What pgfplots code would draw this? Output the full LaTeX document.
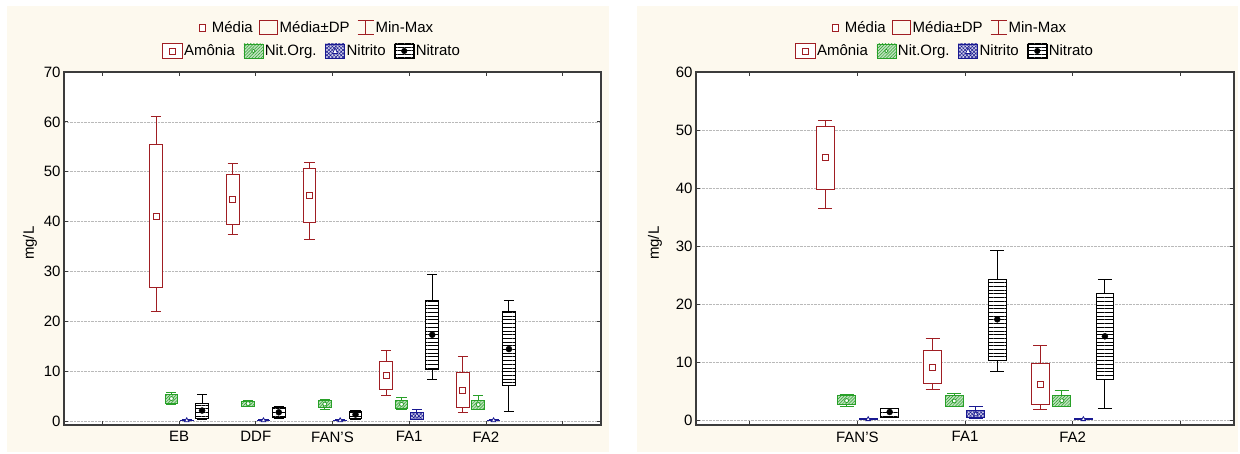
\documentclass[border=0pt]{standalone}
\usepackage{fontspec}
\setmainfont{Liberation Sans}
\usepackage{pgfplots}
\pgfplotsset{compat=1.18}
\usepgfplotslibrary{statistics}
\usetikzlibrary{patterns.meta}
\definecolor{cream}{RGB}{253,249,238}
\definecolor{amred}{RGB}{160,30,35}
\definecolor{grn}{RGB}{40,160,40}
\definecolor{nvy}{RGB}{25,25,145}
\definecolor{frm}{RGB}{60,60,60}
\newcommand\ff{\fontsize{15}{18}\selectfont}
\pgfplotsset{
 bxcommon/.style={line width=1pt, boxplot/draw direction=y, boxplot/every median/.style={draw=none}, boxplot/box extend=0.165},
 am box/.style={bxcommon, amred, boxplot/every box/.style={fill=white}},
 am mean/.style={amred, only marks, mark=square*, mark size=3pt, mark options={draw=amred, fill=white, line width=1pt}},
 ng box/.style={bxcommon, grn, boxplot/every box/.style={preaction={fill=grn!30}, pattern={Lines[angle=45,distance=2.2pt,line width=0.5pt]}, pattern color=grn}},
 ng mean/.style={grn, only marks, mark=*, mark size=2pt, mark options={draw=grn, fill=white, line width=0.8pt}},
 ni box/.style={bxcommon, nvy, boxplot/every box/.style={preaction={fill=nvy!20}, pattern={Hatch[angle=45,distance=2.5pt,line width=0.5pt]}, pattern color=nvy}},
 ni mean/.style={nvy, only marks, mark=triangle*, mark size=2.6pt, mark options={draw=nvy, fill=white, line width=0.8pt}},
 na box/.style={bxcommon, black, boxplot/every box/.style={preaction={fill=white}, pattern={Lines[angle=0,distance=3.7pt,line width=0.8pt]}, pattern color=black}},
 na mean/.style={black, only marks, mark=*, mark size=3pt, mark options={black}},
 panel/.style={scale only axis, anchor=south west, axis background/.style={fill=white},
   axis line style={frm, line width=1.2pt}, tick style={frm, line width=0.8pt},
   major tick length=4pt, tick align=inside, xtick pos=both, ytick pos=both,
   xticklabel pos=lower, yticklabel pos=left, ymajorgrids,
   major grid style={gray!55, densely dotted, line width=0.6pt},
   tick label style={font=\ff}, /pgf/number format/assume math mode=true,
   xticklabel style={yshift=-3pt},
   label style={font=\ff}, ylabel={mg/L}, minor tick num=0},
 legax/.style={hide axis, scale only axis, width=1pt, height=1pt, anchor=center,
   xmin=0, xmax=1, ymin=0, ymax=1, legend columns=-1,
   legend style={at={(0.5,0.5)}, anchor=center, draw=none, fill=none, font=\ff, inner sep=0pt, nodes={inner sep=1pt}}},
 leg media/.style={legend image code/.code={\path[draw=none] (-3pt,0pt) -- (14pt,0pt); \draw[amred,line width=1pt,fill=white] (2.5pt,-3.2pt) rectangle (8.9pt,3.2pt);}},
 leg dp/.style={legend image code/.code={\path[draw=none] (0pt,0pt) -- (25pt,0pt); \draw[amred,line width=1pt] (6pt,-7pt) rectangle (24pt,7pt);}},
 leg mm/.style={legend image code/.code={\path[draw=none] (0pt,0pt) -- (24pt,0pt); \draw[amred,line width=1pt] (7pt,7pt)--(23pt,7pt) (15pt,7pt)--(15pt,-7pt) (7pt,-7pt)--(23pt,-7pt);}},
 leg am/.style={legend image code/.code={\path[draw=none] (0pt,0pt) -- (22pt,0pt); \draw[amred,line width=1pt,fill=white] (1pt,-7.5pt) rectangle (21pt,7.5pt); \draw[amred,line width=0.9pt] (8pt,-3pt) rectangle (14pt,3pt);}},
 leg ng/.style={legend image code/.code={\path[draw=none] (0pt,0pt) -- (28pt,0pt); \draw[grn,line width=0.8pt,preaction={fill=grn!30},pattern={Lines[angle=45,distance=2.2pt,line width=0.5pt]},pattern color=grn] (8pt,-7pt) rectangle (27pt,7pt); \draw[grn,fill=white,line width=0.7pt] (17.5pt,0pt) circle (1.8pt);}},
 leg ni/.style={legend image code/.code={\path[draw=none] (0pt,0pt) -- (28pt,0pt); \draw[nvy,line width=0.8pt,preaction={fill=nvy!20},pattern={Hatch[angle=45,distance=2.5pt,line width=0.5pt]},pattern color=nvy] (8pt,-7pt) rectangle (27pt,7pt); \draw[nvy,fill=white,line width=0.7pt] (15pt,-2.5pt) -- (20pt,-2.5pt) -- (17.5pt,3pt) -- cycle;}},
 leg na/.style={legend image code/.code={\path[draw=none] (0pt,0pt) -- (28pt,0pt); \draw[black,line width=0.8pt,preaction={fill=white},pattern={Lines[angle=0,distance=3.5pt,line width=0.8pt]},pattern color=black] (8pt,-7pt) rectangle (27pt,7pt); \fill[black] (17.5pt,0pt) circle (2.8pt);}},
}
% #1 series, #2 position, #3 min, #4 mean-SD, #5 mean, #6 mean+SD, #7 max
\newcommand\bx[7]{%
 \addplot[#1 box, boxplot prepared={draw position=#2, lower whisker=#3, lower quartile=#4, median=#4, upper quartile=#6, upper whisker=#7}] coordinates {};
 \addplot[#1 mean] coordinates {(#2,#5)};
}
\begin{document}
\begin{tikzpicture}[x=1pt,y=1pt]
\useasboundingbox (0,0) rectangle (1240,453);
\fill[cream] (7,1) rectangle (609,447);
\fill[cream] (637,1) rectangle (1238,447);
% ---------------- left panel
\begin{axis}[panel, at={(64pt,28pt)}, width=537pt, height=353pt,
  xmin=-0.5, xmax=6.5, ymin=-0.8, ymax=70,
  xtick={0,...,6}, xticklabels={{},EB,DDF,FAN'S,FA1,FA2,{}},
  ytick={0,10,...,70},
  ylabel style={at={(axis description cs:-0.0633,0.515)}, anchor=center}]
\bx{am}{0.7}{21.9}{26.85}{41.1}{55.45}{61.05}
\bx{ng}{0.9}{3.4}{3.55}{4.5}{5.4}{5.75}
\bx{ni}{1.1}{0.02}{0.05}{0.12}{0.2}{0.25}
\bx{na}{1.3}{0.3}{0.55}{2.1}{3.5}{5.4}
\bx{am}{1.7}{37.5}{39.4}{44.35}{49.4}{51.6}
\bx{ng}{1.9}{2.9}{3.0}{3.5}{4.0}{4.1}
\bx{ni}{2.1}{0.02}{0.05}{0.12}{0.2}{0.25}
\bx{na}{2.3}{0.5}{0.67}{1.75}{2.67}{2.85}
\bx{am}{2.7}{36.5}{39.8}{45.2}{50.7}{51.8}
\bx{ng}{2.9}{2.4}{2.75}{3.4}{4.15}{4.4}
\bx{ni}{3.1}{0.02}{0.05}{0.12}{0.2}{0.25}
\bx{na}{3.3}{0.4}{0.45}{1.3}{2.0}{2.1}
\bx{am}{3.7}{5.2}{6.35}{9.15}{12.0}{14.15}
\bx{ng}{3.9}{2.3}{2.45}{3.35}{4.2}{4.7}
\bx{ni}{4.1}{0.3}{0.4}{1.05}{1.72}{2.4}
\bx{na}{4.3}{8.4}{10.35}{17.3}{24.2}{29.3}
\bx{am}{4.7}{1.8}{2.65}{6.2}{9.8}{12.95}
\bx{ng}{4.9}{2.3}{2.4}{3.3}{4.1}{5.2}
\bx{ni}{5.1}{0.02}{0.05}{0.12}{0.2}{0.3}
\bx{na}{5.3}{2.0}{7.1}{14.43}{21.87}{24.22}
\end{axis}
% ---------------- right panel
\begin{axis}[panel, at={(696pt,28pt)}, width=538pt, height=353pt,
  xmin=-0.5, xmax=4.5, ymin=-0.86, ymax=60,
  xtick={0,...,4}, xticklabels={{},FAN'S,FA1,FA2,{}},
  ytick={0,10,...,60},
  ylabel style={at={(axis description cs:-0.0762,0.515)}, anchor=center}]
\bx{am}{0.7}{36.4}{39.8}{45.3}{50.6}{51.7}
\bx{ng}{0.9}{2.4}{2.75}{3.35}{4.15}{4.4}
\bx{ni}{1.1}{0.02}{0.05}{0.12}{0.2}{0.25}
\bx{na}{1.3}{0.45}{0.47}{1.38}{1.95}{2.05}
\bx{am}{1.7}{5.2}{6.3}{9.1}{12.0}{14.1}
\bx{ng}{1.9}{2.3}{2.41}{3.28}{4.14}{4.6}
\bx{ni}{2.1}{0.3}{0.47}{1.03}{1.72}{2.36}
\bx{na}{2.3}{8.45}{10.29}{17.36}{24.2}{29.26}
\bx{am}{2.7}{1.78}{2.59}{6.2}{9.77}{12.93}
\bx{ng}{2.9}{2.3}{2.41}{3.33}{4.14}{5.17}
\bx{ni}{3.1}{0.02}{0.05}{0.12}{0.2}{0.3}
\bx{na}{3.3}{2.0}{7.07}{14.43}{21.84}{24.19}
\end{axis}
% ---------------- legends
\begin{axis}[legax, at={(314pt,425pt)}]
\addlegendimage{leg media}\addlegendentry{Média}
\addlegendimage{leg dp}\addlegendentry{Média±DP}
\addlegendimage{leg mm}\addlegendentry{Min-Max}
\end{axis}
\begin{axis}[legax, at={(311pt,402pt)}]
\addlegendimage{leg am}\addlegendentry{Amônia}
\addlegendimage{leg ng}\addlegendentry{Nit.Org.}
\addlegendimage{leg ni}\addlegendentry{Nitrito}
\addlegendimage{leg na}\addlegendentry{Nitrato}
\end{axis}
\begin{axis}[legax, at={(947pt,425pt)}]
\addlegendimage{leg media}\addlegendentry{Média}
\addlegendimage{leg dp}\addlegendentry{Média±DP}
\addlegendimage{leg mm}\addlegendentry{Min-Max}
\end{axis}
\begin{axis}[legax, at={(944pt,402pt)}]
\addlegendimage{leg am}\addlegendentry{Amônia}
\addlegendimage{leg ng}\addlegendentry{Nit.Org.}
\addlegendimage{leg ni}\addlegendentry{Nitrito}
\addlegendimage{leg na}\addlegendentry{Nitrato}
\end{axis}
\end{tikzpicture}
\end{document}
